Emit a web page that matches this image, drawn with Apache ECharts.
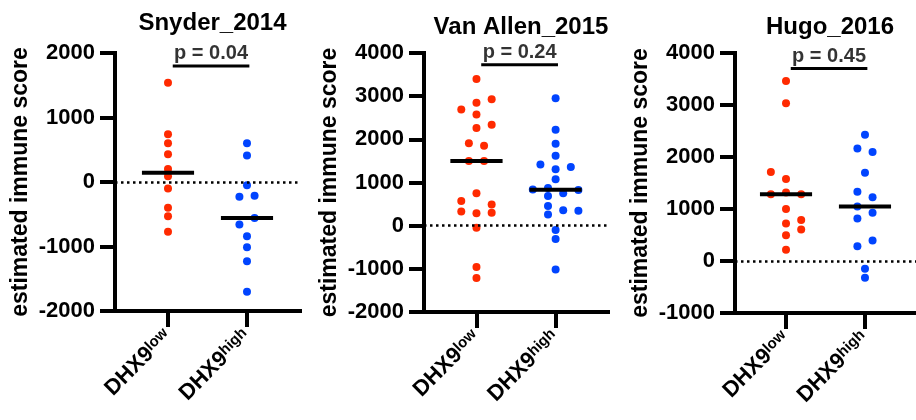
<!DOCTYPE html>
<html>
<head>
    <meta charset="utf-8">
    <script src="https://cdn.jsdelivr.net/npm/echarts@6/dist/echarts.min.js"></script>
    <style>
    html, body { margin: 0; padding: 0; background: #fff; }
    #main { width: 916px; height: 420px; }
    </style>
</head>
<body>
    <div id="main"></div>
    <script type="text/javascript">
        // 数据
        var titles = ['Snyder_2014', 'Van Allen_2015', 'Hugo_2016'];
        var pLabels = ['p = 0.04', 'p = 0.24', 'p = 0.45'];
        var groupNames = ['low', 'high'];

        var snyderLow = [1540, 740, 600, 430, 200, 90, -100, -400, -530, -770];
        var snyderHigh = [600, 410, -50, -215, -230, -560, -660, -840, -1010, -1230, -1700];
        var vanAllenLow = [3400, 2930, 2850, 2690, 2575, 2335, 2260, 1910, 1850, 1500, 1500, 750, 570, 490, 330, 290, 300, -50, -960, -1210];
        var vanAllenHigh = [2950, 2220, 1895, 1620, 1415, 1360, 1305, 1075, 840, 870, 825, 690, 750, 455, 360, 345, 260, -100, -310, -1015];
        var hugoLow = [3460, 3035, 1710, 1575, 1315, 1285, 1285, 1000, 790, 720, 605, 495, 215];
        var hugoHigh = [2430, 2165, 2095, 1695, 1330, 1225, 1050, 930, 815, 395, 285, -150, -320];

        // 散点横向错开 (半个点距为单位)
        var snyderLowJit = [0, 0, 0, 0, 0, 0, 0, 0, 0, 0];
        var snyderHighJit = [0, 0, 0, 1, -1, 1, -1, 0, 0, 0, 0];
        var vanAllenLowJit = [0, 2, 0, -2, 0, 2, 0, -1, 1, -1, 1, 0, -2, 2, -2, 0, 2, 0, 0, 0];
        var vanAllenHighJit = [0, 0, 0, 0, -2, 2, 0, 0, -3, -1, 3, -1, 1, -1, 1, 3, -1, 0, 0, 0];
        var hugoLowJit = [0, 0, -2, 0, 0, -2, 2, 0, 2, 0, 2, 0, 0];
        var hugoHighJit = [0, -1, 1, 0, -1, 1, -1, 1, -1, 1, -1, 0, 0];

        var yMin = [-2000, -2000, -1000];
        var yMax = [2000, 4000, 4000];

        var lows = [snyderLow, vanAllenLow, hugoLow];
        var highs = [snyderHigh, vanAllenHigh, hugoHigh];
        var lowJits = [snyderLowJit, vanAllenLowJit, hugoLowJit];
        var highJits = [snyderHighJit, vanAllenHighJit, hugoHighJit];

        // 布局
        var grids = [
            { left: 115, top: 53, width: 185, height: 258 },
            { left: 424, top: 53, width: 184, height: 259 },
            { left: 735, top: 53, width: 184, height: 260 }
        ];
        var xRange = [[-0.671, 1.671], [-0.663, 1.662], [-0.646, 1.646]];
        var barY = [1800, 3730, 3700];
        var halfStep = 0.096;
        var red = '#FF2A00', blue = '#0044FF';
        var font = 'Liberation Sans, Arial, sans-serif';

        function median(arr) {
            var s = arr.slice().sort(function (a, b) { return a - b; });
            var n = s.length;
            return n % 2 ? s[(n - 1) / 2] : (s[n / 2 - 1] + s[n / 2]) / 2;
        }

        var myChart = echarts.init(document.getElementById('main'));

        var option = {
            animation: false,
            textStyle: { fontFamily: font },
            title: [],
            grid: [],
            xAxis: [],
            yAxis: [],
            series: []
        };

        for (var i = 0; i < 3; i++) {
            var g = grids[i];
            option.grid.push(g);
            option.title.push({
                text: titles[i],
                left: g.left + g.width / 2 - (i === 2 ? 2 : 0),
                top: i === 0 ? 6 : 10,
                textAlign: 'center',
                textStyle: { fontSize: 24, fontWeight: 'bold', color: '#000', fontFamily: font }
            });
            option.xAxis.push({
                gridIndex: i,
                type: 'value',
                min: xRange[i][0],
                max: xRange[i][1],
                splitLine: { show: false },
                axisLine: { show: true, onZero: false, lineStyle: { color: '#000', width: 4, cap: 'square' } },
                axisTick: { show: true, customValues: [0, 1], length: 16, lineStyle: { color: '#000', width: 4 } },
                axisLabel: {
                    customValues: [0, 1],
                    rotate: 45,
                    margin: 22,
                    formatter: function (v) {
                        return '{a|DHX9}{b|' + groupNames[Math.round(v)] + '}';
                    },
                    rich: {
                        a: { fontSize: 22, fontWeight: 'bold', color: '#000', fontFamily: font },
                        b: { fontSize: 15, fontWeight: 'bold', color: '#000', fontFamily: font, verticalAlign: 'top' }
                    }
                }
            });
            option.yAxis.push({
                gridIndex: i,
                type: 'value',
                min: yMin[i],
                max: yMax[i],
                interval: 1000,
                name: 'estimated immune score',
                nameLocation: 'middle',
                nameRotate: 90,
                nameGap: 83,
                nameTextStyle: { fontSize: 23, fontWeight: 'bold', color: '#000', fontFamily: font },
                splitLine: { show: false },
                axisLine: { show: true, onZero: false, lineStyle: { color: '#000', width: 4, cap: 'square' } },
                axisTick: { show: true, length: 15, lineStyle: { color: '#000', width: 4 } },
                axisLabel: {
                    fontSize: 22, fontWeight: 'bold', color: '#000', margin: 20, fontFamily: font,
                    formatter: function (v) { return String(v); }
                }
            });

            var lowPts = lows[i].map(function (v, k) { return [lowJits[i][k] * halfStep, v]; });
            var highPts = highs[i].map(function (v, k) { return [1 + highJits[i][k] * halfStep, v]; });

            option.series.push({
                type: 'scatter', xAxisIndex: i, yAxisIndex: i,
                symbolSize: 8, itemStyle: { color: red, opacity: 1 },
                data: lowPts, z: 3,
                markLine: {
                    silent: true, symbol: ['none', 'none'],
                    label: { show: false },
                    lineStyle: { color: '#000', width: 2.5, type: [2.5, 3.5] },
                    data: [{ yAxis: 0 }]
                }
            });
            option.series.push({
                type: 'scatter', xAxisIndex: i, yAxisIndex: i,
                symbolSize: 8, itemStyle: { color: blue, opacity: 1 },
                data: highPts, z: 3
            });
            // 中位数线
            [[0, lows[i]], [1, highs[i]]].forEach(function (p) {
                var m = median(p[1]);
                option.series.push({
                    type: 'line', xAxisIndex: i, yAxisIndex: i,
                    symbol: 'none', silent: true, z: 4,
                    lineStyle: { color: '#000', width: 4 },
                    data: [[p[0] - 0.33, m], [p[0] + 0.33, m]]
                });
            });
            // 显著性标记
            option.series.push({
                type: 'line', xAxisIndex: i, yAxisIndex: i,
                symbol: 'none', silent: true, z: 4,
                lineStyle: { color: '#000', width: 3 },
                data: [[0.06, barY[i]], [1.03, barY[i]]]
            });
            option.series.push({
                type: 'scatter', xAxisIndex: i, yAxisIndex: i,
                symbolSize: 1, itemStyle: { color: 'rgba(0,0,0,0)' }, silent: true,
                data: [[0.545, barY[i]]],
                label: {
                    show: true, position: 'top', distance: 2,
                    formatter: pLabels[i],
                    fontSize: 20, fontWeight: 'bold', color: '#000', fontFamily: font
                }
            });
        }

        myChart.setOption(option);
    </script>
</body>
</html>
